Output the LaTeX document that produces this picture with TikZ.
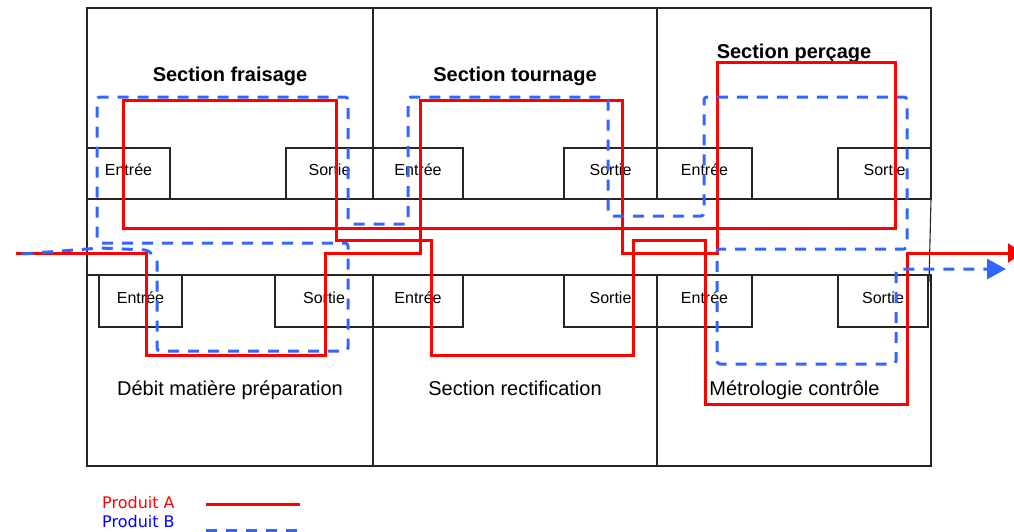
\documentclass[tikz,border=0pt]{standalone}
\usepackage{fontspec}
\setmainfont{Liberation Sans}
\newfontfamily\legfont{DejaVu Sans}
\usepackage{xcolor}
\usepackage{tikz}
\usetikzlibrary{arrows.meta,positioning}
\definecolor{prodRed}{HTML}{FF0000}
\definecolor{prodBlue}{HTML}{3366FF}
\definecolor{legBlue}{HTML}{0000FF}

\tikzset{
  cadre/.style={draw=black!85,line width=1.1pt},
  porte/.style={cadre,rectangle,inner sep=0pt,minimum height=51pt,
    text height=12pt,text depth=8pt,font=\fontsize{16}{18}\selectfont},
  titre/.style={anchor=base,inner sep=0pt,font=\fontsize{20}{24}\selectfont\bfseries},
  zone/.style={anchor=base,inner sep=0pt,font=\fontsize{20}{24}\selectfont},
  legende/.style={anchor=base west,inner sep=0pt,font=\legfont\fontsize{16}{18}\selectfont},
  flowA/.style={prodRed,line width=3pt},
  flowB/.style={prodBlue,line width=3pt,dash pattern=on 11pt off 9pt,rounded corners=3pt},
}

\begin{document}
\begin{tikzpicture}[x=1pt,y=-1pt]
\useasboundingbox (0,0) rectangle (1014,531);
% workshop cells, upper and lower row
\foreach \xa/\xb in {87/373,373/657,657/931}{
  \draw[cadre] (\xa,8) rectangle (\xb,199);
  \draw[cadre] (\xa,275) rectangle (\xb,466);
}
% corridor sides
\draw[cadre] (87,199) -- (87,282);
\draw[cadre] (931,199) -- (929,282);
% doors of the upper cells: name/centre/width/label
\foreach \nm/\x/\w/\lab in {eFr/128.5/83/Entrée, sFr/329.5/87/Sortie, eTo/418/90/Entrée,
    sTo/610.5/93/Sortie, ePe/704.5/95/Entrée, sPe/884.5/93/Sortie}{
  \node[porte,minimum width=\w pt] (\nm) at (\x,173.5) {\lab};
}
% doors of the lower cells
\foreach \nm/\x/\w/\lab in {eDe/140.5/83/Entrée, sDe/324/98/Sortie, eRe/418/90/Entrée,
    sRe/610.5/93/Sortie, eMe/704.5/95/Entrée, sMe/883/90/Sortie}{
  \node[porte,minimum width=\w pt,minimum height=52pt] (\nm) at (\x,301) {\lab};
}
% cell names
\node[titre] (tFr) at (230,81) {Section fraisage};
\node[titre] (tTo) at (515,81) {Section tournage};
\node[titre] (tPe) at (794,58) {Section perçage};
\node[zone] (zDe) at (230,395) {Débit matière préparation};
\node[zone] (zRe) at (515,395) {Section rectification};
\node[zone] (zMe) at (794.5,395) {Métrologie contrôle};

% routes of the two products
\coordinate (inA) at (16,253);
\coordinate (outA) at (1022,253);
\coordinate (inB) at (22,254);
\coordinate (outB) at (1006,269);
\draw[flowA,-{Triangle[length=14pt,width=19pt]}] (inA) -- (146,253) -- (146,355) -- (325,355)
  -- (325,253) -- (420,253) -- (420,100) -- (622,100) -- (622,253) -- (717,253) -- (717,62)
  -- (895,62) -- (895,228) -- (123,228) -- (123,100) -- (336,100) -- (336,240) -- (431,240)
  -- (431,355) -- (633,355) -- (633,240) -- (705,240) -- (705,404) -- (907,404) -- (907,253)
  -- (outA);
\draw[flowB,-{Triangle[length=19pt,width=20pt]}] (inB) -- (100,248) -- (147,250) -- (157,258)
  -- (157,351) -- (348,351) -- (348,243) -- (97,243) -- (97,97) -- (348,97) -- (348,224)
  -- (408,224) -- (408,97) -- (608,97) -- (608,216) -- (704,216) -- (704,97) -- (907,97)
  -- (907,249) -- (717,249) -- (717,364) -- (896,364) -- (896,269) -- (outB);

% legend
\node[legende,text=prodRed] (legA) at (102,508) {Produit A};
\node[legende,text=legBlue] (legB) at (102,527.5) {Produit B};
\draw[flowA] (206,504) -- (300,504);
\draw[flowB] (206,530) -- (300,530);
\end{tikzpicture}
\end{document}
